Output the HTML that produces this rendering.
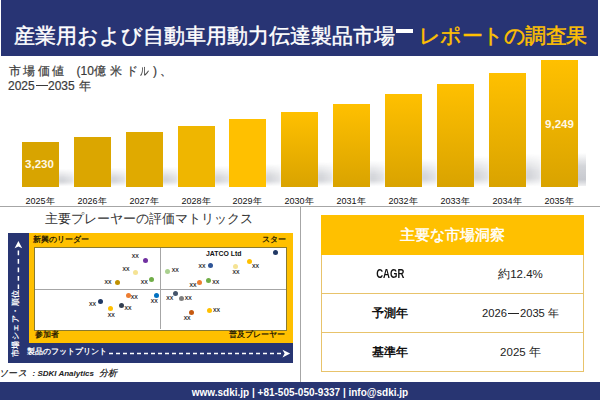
<!DOCTYPE html>
<html><head><meta charset="utf-8">
<style>
*{margin:0;padding:0;box-sizing:border-box}
html,body{width:600px;height:400px;overflow:hidden;background:#fff}
body{position:relative;font-family:"Liberation Sans",sans-serif;color:#000}
.a{position:absolute}
#hdr{left:1px;top:0;width:597px;height:56px;background:#283474}
#ttl{left:14px;top:23px;font-size:21px;line-height:26px;color:#fff;white-space:nowrap;letter-spacing:0;-webkit-text-stroke:0.45px #fff}
#ttl .y{-webkit-text-stroke:0.45px #FFC000}
#ttl .y{color:#FFC000}
#dash{left:396px;top:29px;width:17px;height:4px;background:#fff}
.sb{font-size:12px;line-height:14px;color:#3a3a3a;white-space:nowrap;-webkit-text-stroke:0.2px #3a3a3a}
.bar{position:absolute;width:37px;bottom:213px}
.sh{position:absolute;background:linear-gradient(to bottom,rgba(110,115,130,0),rgba(110,115,130,.28) 55%,rgba(110,115,130,.3) 75%,rgba(110,115,130,0));-webkit-mask-image:linear-gradient(to right,#000 30%,rgba(0,0,0,.6));filter:blur(0.8px)}
.yl{position:absolute;top:196px;width:52px;text-align:center;font-size:9px;line-height:10px;color:#111}
.val{position:absolute;width:37px;text-align:center;font-size:11.5px;font-weight:bold;color:#FFF8E6;line-height:12px}
#hl{left:0;top:206px;width:600px;height:1px;background:#A6A6A6}
#vl{left:300px;top:206px;width:1px;height:176px;background:#A6A6A6}
#mt{left:45px;top:210px;font-size:13px;line-height:18px;color:#333;white-space:nowrap}
#nvL{left:8px;top:233px;width:21px;height:130px;background:#283572}
#nvB{left:8px;top:343px;width:285px;height:20px;background:#283572}
#yel{left:29px;top:233px;width:264px;height:110px;background:#FFC000}
#plot{left:34px;top:247px;width:253px;height:84px;background:#fff;border:1px solid #8A7A30}
.ql{position:absolute;background:#A6A6A6}
.q{position:absolute;font-size:8px;font-weight:bold;color:#2a2000;line-height:9px;white-space:nowrap}
.d{position:absolute;width:5px;height:5px;border-radius:50%}
.x{position:absolute;font-size:5.2px;line-height:5px;color:#111;-webkit-text-stroke:0.15px #111;white-space:nowrap;transform:translate(-50%,-50%)}
#src{left:1px;top:367px;font-size:10px;font-style:italic;font-weight:bold;line-height:12px;color:#111;white-space:nowrap}
#ftr{left:0;top:382px;width:600px;height:18px;background:#283572}
#ftt{left:0;top:385.5px;width:600px;text-align:center;font-size:10px;font-weight:bold;color:#fff;line-height:13px}
#tbl{left:321px;top:215px;width:263px;height:157px;border:1px solid #E8C36B}
#th{left:321px;top:215px;width:263px;height:40px;background:#FFC000}
#tht{left:321px;top:225.2px;width:263px;text-align:center;font-size:14.8px;line-height:20px;color:#fff;-webkit-text-stroke:0.45px #fff}
.rl{position:absolute;left:321px;width:263px;height:1px;background:#E8C36B}
.c1{position:absolute;left:322px;width:136px;text-align:center;font-size:12px;font-weight:bold;line-height:14px;color:#111}
.sx{display:inline-block;transform:scaleX(0.77)}
.c2{position:absolute;left:458px;width:125px;text-align:center;font-size:11.5px;line-height:14px;color:#222}
</style></head><body>
<div id="hdr" class="a"></div>
<div id="ttl" class="a">産業用および自動車用動力伝達製品市場<span style="display:inline-block;width:24px"></span><span class="y" style="letter-spacing:-0.55px">レポートの調査果</span></div>
<div id="dash" class="a"></div>
<div class="a sb" style="left:9px;top:64px;letter-spacing:2.3px">市場価値</div>
<div class="a sb" style="left:76.5px;top:64px">(10億</div>
<div class="a sb" style="left:109.5px;top:64px">米</div>
<div class="a sb" style="left:125.5px;top:64px">ド</div>
<div class="a sb" style="left:139.5px;top:64px;transform:scaleX(0.72);transform-origin:0 0">ル</div>
<div class="a sb" style="left:153px;top:64px">)</div>
<div class="a sb" style="left:159.5px;top:64px">、</div>
<div class="a sb" style="left:8px;top:78.5px">2025</div>
<div class="a" style="left:36px;top:85.2px;width:11.5px;height:1.3px;background:#3a3a3a"></div>
<div class="a sb" style="left:48px;top:78.5px">2035</div>
<div class="a sb" style="left:79px;top:78.5px">年</div>

<!-- shadows -->
<div class="sh" style="left:58px;top:169px;height:17px;width:16px"></div>
<div class="sh" style="left:110px;top:168px;height:18px;width:16px"></div>
<div class="sh" style="left:162px;top:167px;height:19px;width:16px"></div>
<div class="sh" style="left:214px;top:166px;height:20px;width:16px"></div>
<div class="sh" style="left:265px;top:164px;height:22px;width:16px"></div>
<div class="sh" style="left:317px;top:162px;height:24px;width:16px"></div>
<div class="sh" style="left:369px;top:161px;height:25px;width:16px"></div>
<div class="sh" style="left:421px;top:159px;height:27px;width:16px"></div>
<div class="sh" style="left:473px;top:156px;height:30px;width:16px"></div>
<div class="sh" style="left:525px;top:154px;height:32px;width:16px"></div>
<div class="sh" style="left:577px;top:153px;height:33px;width:8.5px;-webkit-mask-image:none;filter:blur(0.5px);background:linear-gradient(to bottom,rgba(110,115,130,0),rgba(110,115,130,.3) 40%,rgba(110,115,130,.38) 80%,rgba(110,115,130,.1))"></div>

<!-- bars -->
<div class="bar" style="left:22px;top:142px;background:#D8A400"></div>
<div class="bar" style="left:74px;top:137px;background:#DBA600"></div>
<div class="bar" style="left:126px;top:132px;background:#E0AA00"></div>
<div class="bar" style="left:178px;top:126px;background:#EFB600"></div>
<div class="bar" style="left:229px;top:119px;background:#FFC000"></div>
<div class="bar" style="left:281px;top:112px;background:linear-gradient(#FFC000,#D9A300)"></div>
<div class="bar" style="left:333px;top:104px;background:linear-gradient(#FFC000,#D9A300)"></div>
<div class="bar" style="left:385px;top:94px;background:linear-gradient(#FFC000,#D9A300)"></div>
<div class="bar" style="left:437px;top:84px;background:linear-gradient(#FFC000,#D9A300)"></div>
<div class="bar" style="left:489px;top:72.5px;background:linear-gradient(#FFC000,#D9A300)"></div>
<div class="bar" style="left:541px;top:60px;background:linear-gradient(#FFC000,#D9A300)"></div>

<div class="val" style="left:21px;top:158px">3,230</div>
<div class="val" style="left:541px;top:118px">9,249</div>

<div class="yl" style="left:14px">2025年</div>
<div class="yl" style="left:66px">2026年</div>
<div class="yl" style="left:118px">2027年</div>
<div class="yl" style="left:170px">2028年</div>
<div class="yl" style="left:221px">2029年</div>
<div class="yl" style="left:273px">2030年</div>
<div class="yl" style="left:325px">2031年</div>
<div class="yl" style="left:377px">2032年</div>
<div class="yl" style="left:429px">2033年</div>
<div class="yl" style="left:481px">2034年</div>
<div class="yl" style="left:533px">2035年</div>

<div id="hl" class="a"></div>
<div id="vl" class="a"></div>

<div id="mt" class="a">主要プレーヤーの評価マトリックス</div>
<div id="nvL" class="a"></div>
<div id="nvB" class="a"></div>
<div id="yel" class="a"></div>
<div id="plot" class="a"></div>
<div class="ql" style="left:35px;top:289px;width:251px;height:1px"></div>
<div class="ql" style="left:160px;top:248px;width:1px;height:81px"></div>
<div class="q" style="left:33px;top:235px">新興のリーダー</div>
<div class="q" style="left:262px;top:235px">スター</div>
<div class="q" style="left:35px;top:330px">参加者</div>
<div class="q" style="left:229px;top:330px">普及プレーヤー</div>

<!-- dots -->
<div class="d" style="left:143px;top:257.5px;background:#7030A0"></div>
<div class="d" style="left:133px;top:269.5px;background:#F5E394"></div>
<div class="d" style="left:149px;top:277px;background:#70AD47"></div>
<div class="d" style="left:115px;top:280px;background:#BF9000"></div>
<div class="d" style="left:165px;top:269px;background:#A9D08E"></div>
<div class="d" style="left:126px;top:293px;background:#ED7D31"></div>
<div class="d" style="left:154px;top:293px;background:#0070C0"></div>
<div class="d" style="left:98px;top:299px;background:#203864"></div>
<div class="d" style="left:119px;top:303px;background:#333F50"></div>
<div class="d" style="left:107.5px;top:306px;background:#FFC000"></div>
<div class="d" style="left:273px;top:250px;background:#203864"></div>
<div class="d" style="left:207.5px;top:263px;background:#2F5597"></div>
<div class="d" style="left:233px;top:264px;background:#F5E394"></div>
<div class="d" style="left:247px;top:259px;background:#FFC000"></div>
<div class="d" style="left:197px;top:280px;background:#ED7D31"></div>
<div class="d" style="left:206px;top:278px;background:#70AD47"></div>
<div class="d" style="left:172.5px;top:291px;background:#44546A"></div>
<div class="d" style="left:179px;top:296px;background:#7F7F7F"></div>
<div class="d" style="left:189px;top:309.5px;background:#C55A11"></div>
<div class="d" style="left:207px;top:308px;background:#FFC000"></div>

<div class="x" style="left:135.2px;top:256.2px">XX</div>
<div class="x" style="left:126px;top:269px">XX</div>
<div class="x" style="left:144.3px;top:282.4px">XX</div>
<div class="x" style="left:108px;top:282px">XX</div>
<div class="x" style="left:175.2px;top:270.2px">XX</div>
<div class="x" style="left:134.3px;top:297px">XX</div>
<div class="x" style="left:154.3px;top:301.2px">XX</div>
<div class="x" style="left:92.4px;top:304px">XX</div>
<div class="x" style="left:128px;top:308.3px">XX</div>
<div class="x" style="left:111.2px;top:315.2px">XX</div>
<div class="x" style="left:202px;top:265.7px">XX</div>
<div class="x" style="left:236px;top:272px">XX</div>
<div class="x" style="left:255.5px;top:266.2px">XX</div>
<div class="x" style="left:193px;top:284.8px">XX</div>
<div class="x" style="left:215.7px;top:282.4px">XX</div>
<div class="x" style="left:169.8px;top:297.9px">XX</div>
<div class="x" style="left:188.3px;top:297.9px">XX</div>
<div class="x" style="left:187.1px;top:318.1px">XX</div>
<div class="x" style="left:216.4px;top:309.8px">XX</div>
<div class="a" style="left:206px;top:249.8px;font-size:6.9px;font-weight:bold;line-height:7px;color:#111;white-space:nowrap">JATCO Ltd</div>

<!-- axis labels & arrows -->
<svg class="a" style="left:0;top:0" width="300" height="370" viewBox="0 0 300 370">
 <path d="M18.4 241 L22.2 248.2 L18.4 246.4 L14.6 248.2 Z" fill="#fff"/>
 <line x1="18.4" y1="250.4" x2="18.4" y2="289" stroke="#fff" stroke-width="1.5" stroke-dasharray="4.9 3.6"/>
 <line x1="109" y1="353.5" x2="282" y2="353.5" stroke="#fff" stroke-width="1.5" stroke-dasharray="4 3"/>
 <path d="M290.2 353.6 L282.5 349.8 L284.6 353.6 L282.5 357.4 Z" fill="#fff"/>
</svg>
<div class="a" style="left:11.5px;top:357px;transform-origin:0 0;transform:rotate(-90deg);font-size:7.6px;letter-spacing:0.45px;line-height:8px;color:#fff;font-weight:bold;white-space:nowrap">市場シェア・順位</div>
<div class="a" style="left:27px;top:346.5px;font-size:7.9px;line-height:10px;color:#fff;font-weight:bold;white-space:nowrap">製品のフットプリント</div>

<div class="a" style="left:-1px;top:367.5px;font-size:8.8px;letter-spacing:0.4px;font-style:italic;line-height:11px;color:#111;white-space:nowrap;-webkit-text-stroke:0.2px #111">ソース</div>
<div class="a" style="left:32.5px;top:368px;font-size:8px;font-style:italic;font-weight:bold;line-height:11px;color:#222;white-space:nowrap">: SDKI Analytics</div>
<div class="a" style="left:99px;top:367.5px;font-size:9px;letter-spacing:0.3px;font-style:italic;line-height:11px;color:#111;white-space:nowrap;-webkit-text-stroke:0.2px #111">分析</div>
<div id="ftr" class="a"></div>
<div id="ftt" class="a">www.sdki.jp | +81-505-050-9337 | info@sdki.jp</div>

<!-- table -->
<div id="tbl" class="a"></div>
<div id="th" class="a"></div>
<div id="tht" class="a">主要な市場洞察</div>
<div class="rl" style="top:293px"></div>
<div class="rl" style="top:332px"></div>
<div class="c1" style="top:266.5px;font-size:12.4px"><span class="sx">CAGR</span></div>
<div class="c2" style="top:267px">約12.4%</div>
<div class="c1" style="top:306px">予測年</div>
<div class="c2" style="top:306px;font-size:11.2px">2026<span style="display:inline-block;width:11px;height:1px;background:#222;vertical-align:3.5px;margin:0 1px"></span>2035 年</div>
<div class="c1" style="top:345px">基準年</div>
<div class="c2" style="top:345px">2025 年</div>
</body></html>
